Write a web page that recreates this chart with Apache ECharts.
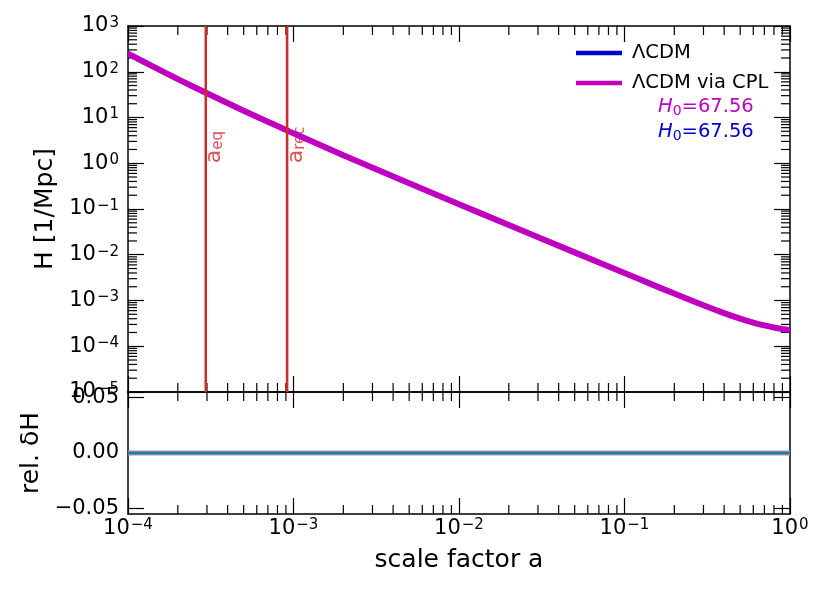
<!DOCTYPE html>
<html><head><meta charset="utf-8">
<script src="https://cdn.jsdelivr.net/npm/echarts@6/dist/echarts.min.js"></script>
<style>html,body{margin:0;padding:0;background:#fff}#c{width:830px;height:593px}</style>
</head><body><div id="c"></div>
<script>
// ---- data ----
const scaleFactor = [1e-4, 1.5e-4, 2e-4, 3e-4, 5e-4, 7e-4, 1e-3, 2e-3, 5e-3, 1e-2, 2e-2, 5e-2,
                     0.1, 0.15, 0.2, 0.3, 0.4, 0.5, 0.6, 0.7, 0.8, 0.9, 1];
const hLCDM = [248, 117, 69, 33.9, 14.1, 8.06, 4.5, 1.50, 0.365, 0.127, 0.0447, 0.01126,
               3.98e-3, 2.17e-3, 1.416e-3, 7.86e-4, 5.30e-4, 4.01e-4, 3.29e-4, 2.85e-4, 2.565e-4, 2.38e-4, 2.25e-4];
const hCPL  = [248, 117, 69, 33.9, 14.1, 8.06, 4.5, 1.50, 0.365, 0.127, 0.0447, 0.01126,
               3.98e-3, 2.17e-3, 1.416e-3, 7.86e-4, 5.30e-4, 4.01e-4, 3.29e-4, 2.85e-4, 2.565e-4, 2.38e-4, 2.25e-4];
const relDeltaH = [0,0,0,0,0,0,0,0,0,0,0,0,0,0,0,0,0,0,0,0,0,0,0];
const markerA = [2.95e-4, 9.15e-4];
const markerSub = ['eq', 'rec'];
const seriesNames = ['ΛCDM', 'ΛCDM via CPL'];
const h0Values = ['67.56', '67.56'];
const xDecades = [1e-4, 1e-3, 1e-2, 1e-1];
const yDecades = [1e-5, 1e-4, 1e-3, 1e-2, 1e-1, 1, 10, 100];
const relTicks = [-0.05, 0, 0.05];

// ---- styling ----
const F = 'DejaVu Sans';
const BLUE = '#0000cd', MAG = '#bf00bf', RED = '#d62728';
const minorOf = ds => ds.flatMap(d => [2,3,4,5,6,7,8,9].map(k => +(k*d).toPrecision(3)));
const xMinor = minorOf(xDecades), yMinor = minorOf(yDecades);

function pow10(v){
  const e = Math.round(Math.log10(v));
  return '{b|10}{s|' + (e < 0 ? '\u2212' + (-e) : '' + e) + '}';
}
const powRich = {
  b: {fontFamily: F, fontSize: 21, color: '#000', lineHeight: 21, verticalAlign: 'bottom'},
  s: {fontFamily: F, fontSize: 15, color: '#000', lineHeight: 15, verticalAlign: 'top', padding: [0,0,10,1]}
};
const MAJ = 16, MIN = 9;
const tick = {show: true, inside: true, length: MAJ, lineStyle: {color: '#000', width: 1.2}};
const aLine = {show: true, onZero: false, lineStyle: {color: '#000', width: 1.5}};
const noLab = {show: false};

function xAx(grid, pos, labels){
  return {type: 'log', logBase: 10, gridIndex: grid, position: pos, min: 1e-4, max: 1,
    axisLine: aLine, axisTick: tick, splitLine: {show: false}, minorTick: {show: false},
    axisLabel: labels ? {show: true, formatter: pow10, rich: powRich, margin: 4, showMinLabel: true, showMaxLabel: true} : noLab};
}
function line(x1,y1,x2,y2){
  return {type: 'line', shape: {x1, y1, x2, y2}, style: {stroke: '#000', lineWidth: 1.2}};
}
function xMinorRender(params, api){
  const p = api.coord([api.value(0), api.value(1)]);
  const cs = params.coordSys;
  return {type: 'group', children: [line(p[0], cs.y, p[0], cs.y + MIN), line(p[0], cs.y + cs.height, p[0], cs.y + cs.height - MIN)]};
}
function yMinorRender(params, api){
  const p = api.coord([api.value(0), api.value(1)]);
  const cs = params.coordSys;
  return {type: 'group', children: [line(cs.x, p[1], cs.x + MIN, p[1]), line(cs.x + cs.width, p[1], cs.x + cs.width - MIN, p[1])]};
}

const chart = echarts.init(document.getElementById('c'), null, {renderer: 'canvas'});
const option = {
  animation: false,
  backgroundColor: '#fff',
  textStyle: {fontFamily: F},
  grid: [
    {left: 128, right: 40, top: 26, height: 366, outerBoundsMode: 'none'},
    {left: 128, right: 40, top: 392, height: 122, outerBoundsMode: 'none'}
  ],
  xAxis: [
    xAx(0, 'bottom', false),
    xAx(0, 'top', false),
    Object.assign(xAx(1, 'bottom', true), {name: 'scale factor a', nameLocation: 'middle', nameGap: 34,
      nameTextStyle: {fontFamily: F, fontSize: 25, color: '#000'}}),
    xAx(1, 'top', false)
  ],
  yAxis: [
    {type: 'log', logBase: 10, gridIndex: 0, position: 'left', min: 1e-5, max: 1e3,
     axisLine: aLine, axisTick: tick, splitLine: {show: false},
     axisLabel: {show: true, formatter: pow10, rich: powRich, margin: 9, showMinLabel: true, showMaxLabel: true},
     name: 'H [1/Mpc]', nameLocation: 'middle', nameGap: 70, nameRotate: 90,
     nameTextStyle: {fontFamily: F, fontSize: 25, color: '#000'}},
    {type: 'log', logBase: 10, gridIndex: 0, position: 'right', min: 1e-5, max: 1e3,
     axisLine: aLine, axisTick: tick, splitLine: {show: false}, axisLabel: noLab},
    {type: 'value', gridIndex: 1, position: 'left', min: -0.055, max: 0.055,
     axisLine: aLine, axisTick: Object.assign({}, tick, {customValues: relTicks}), splitLine: {show: false},
     axisLabel: {show: true, customValues: relTicks, margin: 9, fontFamily: F, fontSize: 21, color: '#000',
       formatter: v => (v < -1e-9 ? '\u2212' : '') + Math.abs(v).toFixed(2)},
     name: 'rel. \u03b4H', nameLocation: 'middle', nameGap: 84, nameRotate: 90,
     nameTextStyle: {fontFamily: F, fontSize: 25, color: '#000'}},
    {type: 'value', gridIndex: 1, position: 'right', min: -0.055, max: 0.055,
     axisLine: aLine, axisTick: Object.assign({}, tick, {customValues: relTicks}), splitLine: {show: false}, axisLabel: noLab}
  ],
  legend: {
    data: seriesNames, orient: 'vertical', left: 571, top: 38, itemWidth: 46, itemHeight: 4.5, itemGap: 10,
    icon: 'rect', selectedMode: false,
    textStyle: {fontFamily: F, fontSize: 19.5, color: '#000', lineHeight: 20, padding: [0,0,0,5]}
  },
  graphic: h0Values.map((v, i) => ({
    type: 'text', left: 658, top: 95 + i * 25, z: 10,
    style: {
      text: '{i|H}{s|0}{n|=' + v + '}',
      rich: {
        i: {fontFamily: F, fontSize: 19.5, fontStyle: 'italic', fill: i === 0 ? MAG : BLUE, lineHeight: 21, verticalAlign: 'top'},
        s: {fontFamily: F, fontSize: 14, fill: i === 0 ? MAG : BLUE, lineHeight: 14, verticalAlign: 'bottom', padding: [9,0,0,0]},
        n: {fontFamily: F, fontSize: 19.5, fill: i === 0 ? MAG : BLUE, lineHeight: 21, verticalAlign: 'top'}
      }
    }
  })),
  series: [
    {type: 'custom', name: 'xminor0', xAxisIndex: 0, yAxisIndex: 0, renderItem: xMinorRender, silent: true, z: 1,
     data: xMinor.map(v => [v, 1])},
    {type: 'custom', name: 'yminor0', xAxisIndex: 0, yAxisIndex: 0, renderItem: yMinorRender, silent: true, z: 1,
     data: yMinor.map(v => [1e-2, v])},
    {type: 'custom', name: 'xminor1', xAxisIndex: 2, yAxisIndex: 2, renderItem: xMinorRender, silent: true, z: 1,
     data: xMinor.map(v => [v, 0])},
    {type: 'line', name: seriesNames[0], xAxisIndex: 0, yAxisIndex: 0, showSymbol: false, symbol: 'none', z: 3,
     lineStyle: {color: BLUE, width: 4.5}, itemStyle: {color: BLUE}, smooth: 0.2,
     data: scaleFactor.map((a, i) => [a, hLCDM[i]])},
    {type: 'line', name: seriesNames[1], xAxisIndex: 0, yAxisIndex: 0, showSymbol: false, symbol: 'none', z: 4,
     lineStyle: {color: MAG, width: 6}, itemStyle: {color: MAG}, smooth: 0.2,
     data: scaleFactor.map((a, i) => [a, hCPL[i]])},
    ...markerA.map(a => ({type: 'line', xAxisIndex: 0, yAxisIndex: 0, showSymbol: false, symbol: 'none', z: 5,
     lineStyle: {color: RED, width: 2.5}, data: [[a, 1e-5], [a, 1e3]]})),
    {type: 'scatter', xAxisIndex: 0, yAxisIndex: 0, symbolSize: 0, z: 2, silent: true,
     data: markerA.map(a => [a, 1]),
     label: {show: true, position: [-2, 0], rotate: 90, align: 'left', verticalAlign: 'top',
       formatter: p => '{a|a}{s|' + markerSub[p.dataIndex] + '}',
       rich: {
         a: {fontFamily: F, fontSize: 22, color: RED, lineHeight: 22, verticalAlign: 'top'},
         s: {fontFamily: F, fontSize: 15, color: RED, lineHeight: 15, verticalAlign: 'bottom', padding: [9,0,0,0]}
       }}},
    {type: 'line', xAxisIndex: 2, yAxisIndex: 2, showSymbol: false, symbol: 'none', z: 3,
     lineStyle: {color: '#9a9a9a', width: 5}, data: scaleFactor.map((a, i) => [a, relDeltaH[i]])},
    {type: 'line', xAxisIndex: 2, yAxisIndex: 2, showSymbol: false, symbol: 'none', z: 4,
     lineStyle: {color: '#1f77b4', width: 2.6}, data: scaleFactor.map((a, i) => [a, relDeltaH[i]])}
  ]
};
chart.setOption(option);
</script></body></html>
